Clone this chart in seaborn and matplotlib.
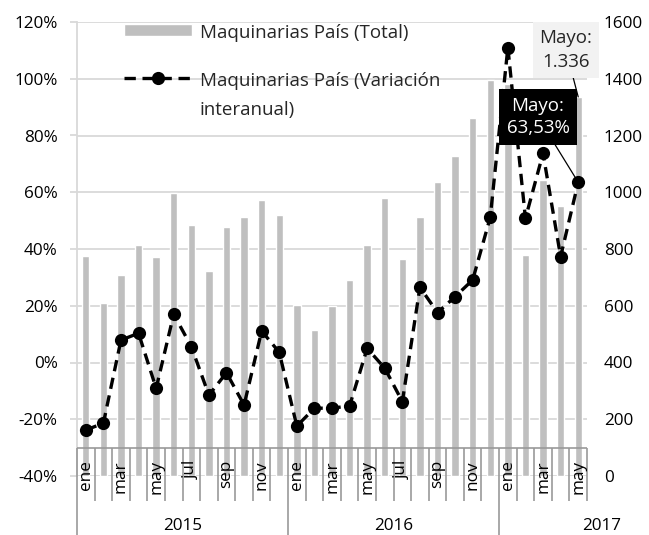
import numpy as np
import pandas as pd
import matplotlib
matplotlib.use("Agg")
import matplotlib.pyplot as plt
import seaborn as sns

# ---------------- data ----------------
years = ["2015", "2016", "2017"]
months_per_year = [12, 12, 5]
month_names = ["ene", "feb", "mar", "abr", "may", "jun",
               "jul", "ago", "sep", "oct", "nov", "dic"]

totals = [775, 611, 708, 813, 773, 996, 885, 722, 879, 913, 973, 920,
          603, 514, 599, 691, 813, 979, 766, 913, 1036, 1129, 1260, 1395,
          1380, 778, 1043, 951, 1336]
variacion = [-23.8, -21.4, 7.9, 10.3, -9.1, 17.0, 5.6, -11.5, -3.6, -15.0, 11.1, 3.6,
             -22.4, -16.1, -16.1, -15.3, 5.0, -2.0, -13.8, 26.5, 17.6, 23.2, 29.1, 51.2,
             111.0, 50.8, 73.7, 37.3, 63.53]

left_ticks = [-40, -20, 0, 20, 40, 60, 80, 100, 120]
right_ticks = [0, 200, 400, 600, 800, 1000, 1200, 1400, 1600]

label_total = "Maquinarias País (Total)"
label_var = "Maquinarias País (Variación\ninteranual)"

# ---------------- build ----------------
month_labels = []
year_of = []
for y, n in zip(years, months_per_year):
    for m in range(n):
        month_labels.append(month_names[m])
        year_of.append(y)
n = len(totals)
df = pd.DataFrame({"pos": np.arange(n), "mes": month_labels, "anio": year_of,
                   "total": totals, "var": variacion})

FS = 12.3     # tick / category labels
FSL = 13.5    # legend and data labels
sns.set_style("white")
plt.rcParams["font.family"] = ["Open Sans", "DejaVu Sans"]
plt.rcParams["font.size"] = FS

W, H = 649, 535
fig = plt.figure(figsize=(W / 100, H / 100), dpi=100)
ax1 = fig.add_axes([77 / W, 1 - 476 / H, 510 / W, 454 / H])
ax1.set_facecolor("none")

GRID = "#d9d9d9"
BOX = "#999999"

# bars on ax1 (right axis)
sns.barplot(data=df, x="pos", y="total", ax=ax1, color="#bfbfbf",
            width=0.42, saturation=1, zorder=2)
ax1.set_ylim(0, 1600)
ax1.set_xlim(-0.5, n - 0.5)
ax1.set_axisbelow(True)
ax1.grid(axis="y", color=GRID, lw=1.3)
ax1.set_xlabel("")
ax1.set_ylabel("")
ax1.set_xticks([])
for s in ["top", "right", "bottom"]:
    ax1.spines[s].set_visible(False)
ax1.spines["left"].set_color(GRID)
ax1.spines["left"].set_linewidth(1.3)

# line on ax2 (left axis)
ax2 = ax1.twinx()
sns.lineplot(data=df, x="pos", y="var", ax=ax2, color="black", marker="o",
             markersize=9.5, markeredgewidth=0, lw=2.4,
             linestyle=(0, (3.4, 2.0)), zorder=3)
ax2.set_ylim(-40, 120)
ax2.set_yticks(left_ticks)
ax2.set_yticklabels([f"{t}%" for t in left_ticks])
ax2.yaxis.tick_left()
ax2.tick_params(axis="y", length=5, width=1.3, color=GRID, pad=9,
                labelsize=FS, labelcolor="black")
ax2.set_xlabel("")
ax2.set_ylabel("")
for s in ["top", "right", "bottom", "left"]:
    ax2.spines[s].set_visible(False)
ax2.set_xlim(-0.5, n - 0.5)

# right axis ticks (ax1) -- after twinx, which moves them to the left
ax1.yaxis.tick_right()
ax1.set_yticks(right_ticks)
ax1.set_yticklabels([str(t) for t in right_ticks])
ax1.tick_params(axis="y", length=0, pad=12, labelsize=FS, labelcolor="black")

# category box (multi-level axis)
xt = ax2.get_xaxis_transform()
y_top = (476 - 448) / 454
y_month = (476 - 501) / 454
y_year = (476 - 535) / 454
y_year_lbl = (476 - 526) / 454
y_mlabel = (476 - 460) / 454
ax2.hlines(y_top, -0.5, n - 0.5, transform=xt, color=BOX, lw=1.2, clip_on=False)
bounds = np.arange(n + 1) - 0.5
year_starts = np.cumsum([0] + months_per_year[:-1]) - 0.5
for b in bounds:
    is_year = np.any(np.isclose(b, year_starts))
    ax2.vlines(b, y_year if is_year else y_month, y_top, transform=xt,
               color=BOX, lw=1.2, clip_on=False)
for i, (p, m) in enumerate(zip(df["pos"], df["mes"])):
    if i % 2 == 0:
        ax2.text(p, y_mlabel, m, transform=xt, rotation=90, ha="center",
                 va="top", fontsize=FS, color="black", clip_on=False, zorder=10)
starts = np.cumsum([0] + months_per_year[:-1])
for i, (y, s, k) in enumerate(zip(years, starts, months_per_year)):
    cx = s + (k - 1) / 2
    if i == len(years) - 1:
        cx = s + k + 0.35
    ax2.text(cx, y_year_lbl, y, transform=xt, ha="center", va="center",
             fontsize=FS, color="black", clip_on=False)

# annotations
fmt_total = f"{totals[-1]:,}".replace(",", ".")
fmt_var = f"{variacion[-1]:.2f}%".replace(".", ",")
ax2.annotate(f"Mayo:\n{fmt_total}", xy=(n - 1, totals[-1] / 1600 * 160 - 40),
             xytext=(566, H - 50), textcoords="figure pixels",
             ha="center", va="center", fontsize=FSL, linespacing=1.45,
             bbox=dict(boxstyle="square,pad=0.35", fc="#f2f2f2", ec="none"),
             arrowprops=dict(arrowstyle="-", color="black", lw=0.9,
                             shrinkA=0, shrinkB=0),
             annotation_clip=False, zorder=5)
ax2.annotate(f"Mayo:\n{fmt_var}", xy=(n - 1, variacion[-1]),
             xytext=(538, H - 117), textcoords="figure pixels",
             ha="center", va="center", fontsize=FSL, color="white", linespacing=1.35,
             bbox=dict(boxstyle="square,pad=0.4", fc="black", ec="none"),
             arrowprops=dict(arrowstyle="-", color="black", lw=0.9,
                             shrinkA=0, shrinkB=0),
             annotation_clip=False, zorder=6)

# legend
bars = ax1.containers[0]
line = ax2.lines[0]
leg = ax2.legend([bars, line], [label_total, label_var], loc="upper left",
                 bbox_to_anchor=(124 / W, 1 - 24 / H), bbox_transform=fig.transFigure,
                 frameon=False, borderpad=0, borderaxespad=0, handlelength=3.6,
                 handleheight=0.6, handletextpad=0.45, labelspacing=1.6,
                 fontsize=FSL, numpoints=1)
for t in leg.get_texts():
    t.set_linespacing(1.8)
try:
    for col in leg._legend_handle_box.get_children():
        for hp in col.get_children():
            hp.align = "top"
except Exception:
    pass

fig.savefig("out.png", dpi=100)
